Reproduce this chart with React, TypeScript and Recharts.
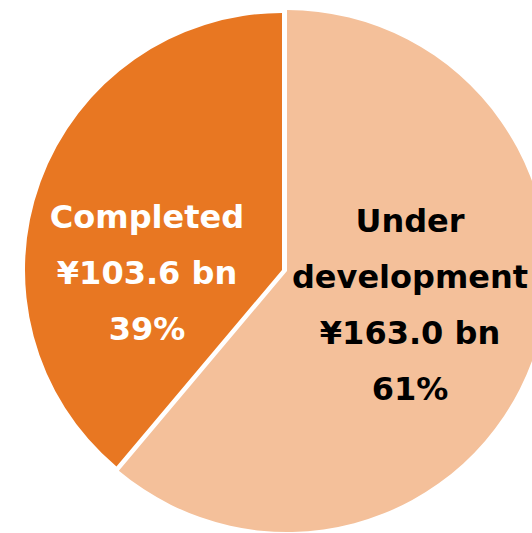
import React from 'react'
import { PieChart, Pie, Cell } from 'recharts'

const categories = ['Under development', 'Completed']
const amounts = [163.0, 103.6] // ¥ bn
const colors = ['#F4C09A', '#E87722']
const textColors = ['#000000', '#FFFFFF']

const total = amounts.reduce((a, b) => a + b, 0)
const data = categories.map((name, i) => ({ name, value: amounts[i] }))

// label block anchors (center x, first baseline y)
const labelAnchors = [
  { x: 410, y: 232 },
  { x: 147, y: 228 },
]
const LINE_GAP = 56

function renderLabel(index: number) {
  const name = data[index].name
  const lines = [
    ...name.split(' '),
    `¥${amounts[index].toFixed(1)} bn`,
    `${Math.round((amounts[index] / total) * 100)}%`,
  ]
  const a = labelAnchors[index]
  return (
    <text
      key={name}
      x={a.x}
      y={a.y}
      textAnchor="middle"
      fill={textColors[index]}
      style={{ fontFamily: 'DejaVu Sans', fontWeight: 'bold', fontSize: 32 }}
    >
      {lines.map((l, i) => (
        <tspan key={i} x={a.x} y={a.y + i * LINE_GAP}>
          {l}
        </tspan>
      ))}
    </text>
  )
}

export default function App() {
  return (
    <div style={{ position: 'absolute', left: 0, top: 0, background: '#fff' }}>
      <PieChart width={532} height={533} margin={{ top: 0, right: 0, bottom: 0, left: 0 }}>
        {/* under development slice, slightly exploded */}
        <Pie
          data={data}
          dataKey="value"
          cx={287}
          cy={271}
          outerRadius={261}
          startAngle={90}
          endAngle={-270}
          stroke="none"
          isAnimationActive={false}
          label={({ index }: any) => (index === 0 ? renderLabel(0) : null)}
          labelLine={false}
        >
          {data.map((d, i) => (
            <Cell key={d.name} fill={i === 0 ? colors[0] : 'transparent'} />
          ))}
        </Pie>
        {/* completed slice */}
        <Pie
          data={data}
          dataKey="value"
          cx={282}
          cy={270}
          outerRadius={257}
          startAngle={90}
          endAngle={-270}
          stroke="none"
          isAnimationActive={false}
          label={({ index }: any) => (index === 1 ? renderLabel(1) : null)}
          labelLine={false}
        >
          {data.map((d, i) => (
            <Cell key={d.name} fill={i === 1 ? colors[1] : 'transparent'} />
          ))}
        </Pie>
      </PieChart>
    </div>
  )
}
